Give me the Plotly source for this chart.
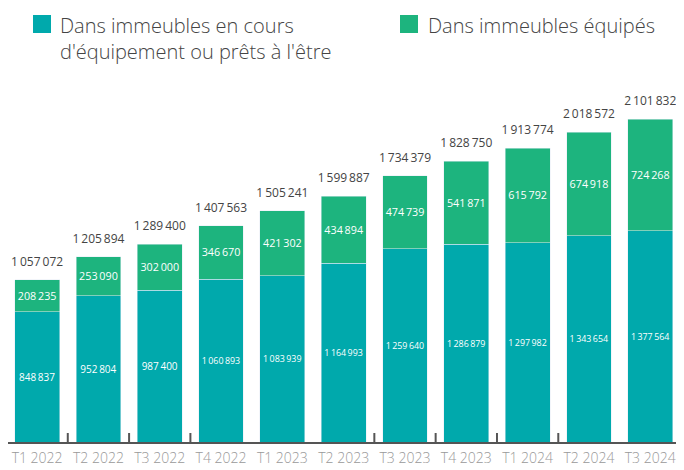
import plotly.graph_objects as go

categories = ["T1 2022", "T2 2022", "T3 2022", "T4 2022", "T1 2023", "T2 2023",
              "T3 2023", "T4 2023", "T1 2024", "T2 2024", "T3 2024"]
en_cours = [848837, 952804, 987400, 1060893, 1083939, 1164993,
            1259640, 1286879, 1297982, 1343654, 1377564]
equipes = [208235, 253090, 302000, 346670, 421302, 434894,
           474739, 541871, 615792, 674918, 724268]
totaux = [1057072, 1205894, 1289400, 1407563, 1505241, 1599887,
          1734379, 1828750, 1913774, 2018572, 2101832]
tick_boundaries = [0.5, 1.5, 2.5, 5.5, 6.5, 7.5, 8.5]

legend_1 = "Dans immeubles en cours<br>d'équipement ou prêts à l'être"
legend_2 = "Dans immeubles équipés"

TEAL = "#00A9AC"
GREEN = "#1DB47E"
NUM_FONT = "Open Sans"
TXT_FONT = "Open Sans"


def fmt(v):
    return f"{v:,}".replace(",", "\u2009")


fig = go.Figure()
fig.add_trace(go.Bar(
    x=categories, y=en_cours, name=legend_1.replace("<br>", " "), marker_color=TEAL,
    text=[fmt(v) for v in en_cours], textposition="inside",
    insidetextanchor="middle", textangle=0,
    textfont=dict(color="white", size=10, family=NUM_FONT),
    hoverinfo="skip", showlegend=False,
))
fig.add_trace(go.Bar(
    x=categories, y=equipes, name=legend_2, marker_color=GREEN,
    text=[fmt(v) for v in equipes], textposition="inside",
    insidetextanchor="middle", textangle=0,
    textfont=dict(color="white", size=12.5, family=NUM_FONT),
    hoverinfo="skip", showlegend=False,
))
fig.add_trace(go.Scatter(
    x=categories, y=totaux, mode="markers+text",
    marker=dict(size=16, opacity=0),
    text=[fmt(v) for v in totaux], textposition="top center",
    textfont=dict(color="#444444", size=12, family=NUM_FONT),
    hoverinfo="skip", showlegend=False, cliponaxis=False,
))

shapes = []
for b in tick_boundaries:
    shapes.append(dict(type="line", xref="x", yref="y", x0=b, x1=b,
                       ysizemode="pixel", yanchor=0, y0=0, y1=9,
                       line=dict(color="#555555", width=2)))
# legend squares (pixel offsets from the top-left of the plot area)
for x_px, col in [(25, TEAL), (392, GREEN)]:
    shapes.append(dict(type="rect", xref="paper", yref="paper",
                       xsizemode="pixel", ysizemode="pixel",
                       xanchor=0, yanchor=1, x0=x_px, x1=x_px + 18,
                       y0=55, y1=37, fillcolor=col, line_width=0))

leg_font = dict(size=20, color="#444444", family=TXT_FONT, weight=300)
annotations = [
    dict(xref="paper", yref="paper", x=0, y=1, xshift=50, yshift=60,
         xanchor="left", yanchor="top", align="left", showarrow=False,
         text=legend_1, font=leg_font),
    dict(xref="paper", yref="paper", x=0, y=1, xshift=418, yshift=60,
         xanchor="left", yanchor="top", align="left", showarrow=False,
         text=legend_2, font=leg_font),
]

fig.update_layout(
    width=668, height=462,
    margin=dict(l=0, r=0, t=62, b=28, autoexpand=False),
    barmode="stack", bargap=0.27,
    paper_bgcolor="white", plot_bgcolor="white",
    font=dict(family=TXT_FONT, color="#444444"),
    shapes=shapes, annotations=annotations,
    uniformtext=dict(mode=False),
    xaxis=dict(range=[-0.475, 10.42], showline=True, linecolor="#555555", linewidth=2,
               ticks="", showgrid=False, zeroline=False, tickangle=0, automargin=False,
               ticklabelstandoff=2,
               tickfont=dict(size=14, color="#999999", family=TXT_FONT, weight=300)),
    yaxis=dict(range=[0, 2423500], visible=False, showgrid=False, zeroline=False),
)

fig.write_html("out.html")
